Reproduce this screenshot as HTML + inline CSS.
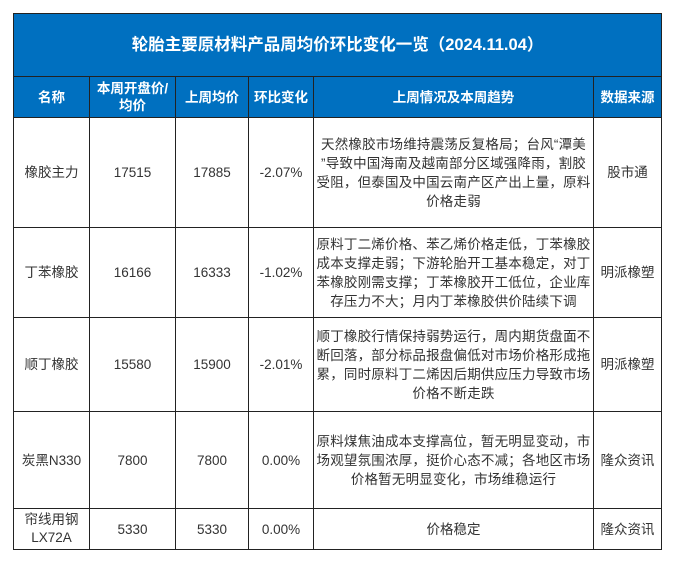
<!DOCTYPE html>
<html><head><meta charset="utf-8"><style>
body{margin:0;background:#fff;width:688px;height:564px;overflow:hidden;font-family:"Liberation Sans","Noto Sans CJK SC",sans-serif;}
table{position:absolute;left:13px;top:13px;border-collapse:collapse;table-layout:fixed;width:648px;}
td{border:1px solid #222;text-align:center;vertical-align:middle;padding:0;font-size:13.5px;color:#333;line-height:19px;white-space:nowrap;overflow:hidden;}
.t{background:#0070c0;color:#fff;font-weight:bold;font-size:16.5px;height:62px;}
.h td{background:#0070c0;color:#fff;font-weight:bold;font-size:13.5px;line-height:17px;}
.d{letter-spacing:0.2px;}
</style></head><body>
<table>
<colgroup><col style="width:76px"><col style="width:86px"><col style="width:73px"><col style="width:65px"><col style="width:280px"><col style="width:68px"></colgroup>
<tr><td class="t" colspan="6">轮胎主要原材料产品周均价环比变化一览（2024.11.04）</td></tr>
<tr class="h" style="height:41px"><td>名称</td><td>本周开盘价/<br>均价</td><td>上周均价</td><td>环比变化</td><td>上周情况及本周趋势</td><td>数据来源</td></tr>
<tr style="height:110px"><td>橡胶主力</td><td>17515</td><td>17885</td><td>-2.07%</td><td class="d">天然橡胶市场维持震荡反复格局；台风“潭美<br>”导致中国海南及越南部分区域强降雨，割胶<br>受阻，但泰国及中国云南产区产出上量，原料<br>价格走弱</td><td>股市通</td></tr>
<tr style="height:90px"><td>丁苯橡胶</td><td>16166</td><td>16333</td><td>-1.02%</td><td class="d">原料丁二烯价格、苯乙烯价格走低，丁苯橡胶<br>成本支撑走弱；下游轮胎开工基本稳定，对丁<br>苯橡胶刚需支撑；丁苯橡胶开工低位，企业库<br>存压力不大；月内丁苯橡胶供价陆续下调</td><td>明派橡塑</td></tr>
<tr style="height:94px"><td>顺丁橡胶</td><td>15580</td><td>15900</td><td>-2.01%</td><td class="d">顺丁橡胶行情保持弱势运行，周内期货盘面不<br>断回落，部分标品报盘偏低对市场价格形成拖<br>累，同时原料丁二烯因后期供应压力导致市场<br>价格不断走跌</td><td>明派橡塑</td></tr>
<tr style="height:97px"><td>炭黑N330</td><td>7800</td><td>7800</td><td>0.00%</td><td class="d">原料煤焦油成本支撑高位，暂无明显变动，市<br>场观望氛围浓厚，挺价心态不减；各地区市场<br>价格暂无明显变化，市场维稳运行</td><td>隆众资讯</td></tr>
<tr style="height:41px"><td style="line-height:18px">帘线用钢<br>LX72A</td><td>5330</td><td>5330</td><td>0.00%</td><td>价格稳定</td><td>隆众资讯</td></tr>
</table>
</body></html>
